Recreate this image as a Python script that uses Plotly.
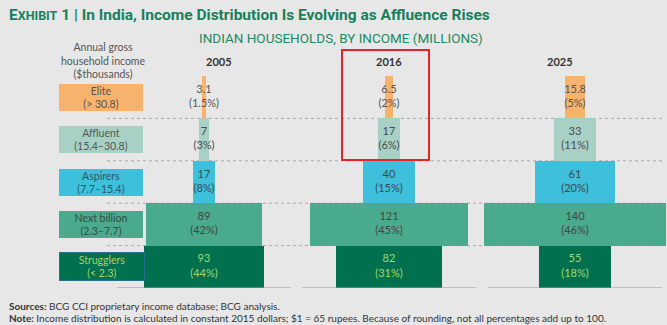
import plotly.graph_objects as go

# ---- data ----
years = ["2005", "2016", "2025"]
segments = ["Struggling", "Next billion", "Aspirers", "Affluent", "Elite"]  # bottom -> top
segment_names = ["Strugglers", "Next billion", "Aspirers", "Affluent", "Elite"]
segment_ranges = ["(< 2.3)", "(2.3–7.7)", "(7.7–15.4)", "(15.4–30.8)", "(> 30.8)"]

households_2005 = [93, 89, 17, 7, 3.1]
households_2016 = [82, 121, 40, 17, 6.5]
households_2025 = [55, 140, 61, 33, 15.8]

share_2005 = ["44%", "42%", "8%", "3%", "1.5%"]
share_2016 = ["31%", "45%", "15%", "6%", "2%"]
share_2025 = ["18%", "46%", "20%", "11%", "5%"]

values = [households_2005, households_2016, households_2025]
shares = [share_2005, share_2016, share_2025]

# ---- styling ----
W, H = 667, 325
BG = "#e7e7e7"
GREEN = "#17805c"
bar_colors = ["#00704f", "#4aaa8d", "#3ebfdb", "#a9d0c5", "#f7b26d"]
box_text_colors = ["#a6d66b", "#2f4f45", "#2e5866", "#4f5a57", "#555555"]
bar_text_colors = ["#a6d66b", "#444444", "#3c4a50", "#4a4a4a", "#555555"]
BODY_FONT = "Lato, Open Sans, sans-serif"

PX_PER_M = 1.3                     # horizontal pixels per million households
col_center_px = [204, 389, 575]    # column centres in pixels
row_top_px, row_bottom_px = 76, 288

def px_x(p):
    return p / W

def px_y(p):
    return 1 - p / H

x_max = W / PX_PER_M
col_centers = [c / PX_PER_M for c in col_center_px]

fig = go.Figure()

rows = list(range(len(segments)))
for ci, (vals, shr) in enumerate(zip(values, shares)):
    c = col_centers[ci]
    fig.add_trace(go.Bar(
        orientation="h",
        y=rows,
        x=vals,
        base=[c - v / 2 for v in vals],
        width=1,
        marker=dict(color=bar_colors, line=dict(width=0)),
        hoverinfo="skip",
        showlegend=False,
    ))
    fig.add_trace(go.Scatter(
        x=[c] * len(vals),
        y=rows,
        mode="text",
        text=[f"{v:g}<br>({s})" for v, s in zip(vals, shr)],
        textfont=dict(family=BODY_FONT, size=11, color=bar_text_colors),
        hoverinfo="skip",
        showlegend=False,
    ))

shapes = []
# dotted separators between rows
for r in range(len(segments) - 1):
    shapes.append(dict(type="line", xref="paper", yref="y",
                       x0=px_x(107), x1=px_x(664), y0=r + 0.5, y1=r + 0.5,
                       line=dict(color="#a9a9a9", width=1, dash="dot"),
                       layer="below"))
# baseline under each column
for c in col_center_px:
    shapes.append(dict(type="line", xref="paper", yref="y",
                       x0=px_x(c - 87), x1=px_x(c + 87), y0=-0.5, y1=-0.5,
                       line=dict(color="#9a9a9a", width=1.2)))
# highlight box around the 2016 top segments
shapes.append(dict(type="rect", xref="paper", yref="paper",
                   x0=px_x(342), x1=px_x(429), y0=px_y(160), y1=px_y(50),
                   line=dict(color="#e3242b", width=2), fillcolor="rgba(0,0,0,0)"))

annotations = []
# segment legend boxes
for r in rows:
    annotations.append(dict(
        xref="paper", yref="y", x=px_x(59), y=r, yanchor="middle",
        text=f"{segment_names[r]}<br>{segment_ranges[r]}",
        showarrow=False, width=82, height=25,
        bgcolor=bar_colors[r], align="center",
        bordercolor="#2c6f8a" if r == 0 else bar_colors[r],
        borderwidth=1 if r == 0 else 0,
        font=dict(family=BODY_FONT, size=10.5, color=box_text_colors[r]),
    ))
# left header
annotations.append(dict(
    xref="paper", yref="paper", x=px_x(59), y=px_y(60), yanchor="middle",
    text="Annual gross<br>household income<br>($thousands)",
    showarrow=False, align="center",
    font=dict(family=BODY_FONT, size=10.5, color="#555555"),
))
# column headers
for c, yr in zip(col_center_px, years):
    annotations.append(dict(
        xref="paper", yref="paper", x=px_x(c), y=px_y(61), yanchor="middle",
        text=f"<b>{yr}</b>", showarrow=False,
        font=dict(family=BODY_FONT, size=11, color="#333333"),
    ))
# title and subtitle
annotations.append(dict(
    xref="paper", yref="paper", x=px_x(7), y=px_y(15), xanchor="left",
    yanchor="middle",
    text=("<b>E<span style='font-size:12.5px'>XHIBIT</span> 1 | In India, Income "
          "Distribution Is Evolving as Affluence Rises</b>"),
    showarrow=False,
    font=dict(family="Roboto, sans-serif", size=15.5, color=GREEN),
))
annotations.append(dict(
    xref="paper", yref="paper", x=px_x(341), y=px_y(38), yanchor="middle",
    text="INDIAN HOUSEHOLDS, BY INCOME (MILLIONS)",
    showarrow=False,
    font=dict(family="Roboto, sans-serif", size=13.5, color="#1c8a64"),
))
# footer
annotations.append(dict(
    xref="paper", yref="paper", x=px_x(7), y=px_y(306), xanchor="left",
    yanchor="middle",
    text="<b>Sources:</b> BCG CCI proprietary income database; BCG analysis.",
    showarrow=False,
    font=dict(family=BODY_FONT, size=10, color="#333333"),
))
annotations.append(dict(
    xref="paper", yref="paper", x=px_x(7), y=px_y(318), xanchor="left",
    yanchor="middle",
    text=("<b>Note:</b> Income distribution is calculated in constant 2015 dollars; "
          "$1 = 65 rupees. Because of rounding, not all percentages add up to 100."),
    showarrow=False,
    font=dict(family=BODY_FONT, size=10, color="#333333"),
))

fig.update_layout(
    width=W, height=H,
    margin=dict(l=0, r=0, t=0, b=0),
    paper_bgcolor=BG, plot_bgcolor=BG,
    barmode="overlay", bargap=0,
    xaxis=dict(range=[0, x_max], domain=[0, 1], visible=False, fixedrange=True),
    yaxis=dict(range=[-0.5, len(segments) - 0.5],
               domain=[px_y(row_bottom_px), px_y(row_top_px)],
               visible=False, fixedrange=True),
    shapes=shapes,
    annotations=annotations,
)

fig.write_html("out.html", config={"displayModeBar": False})
